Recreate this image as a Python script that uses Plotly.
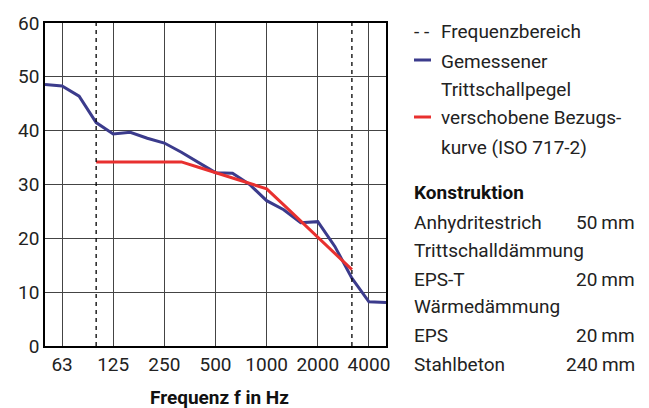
import plotly.graph_objects as go

# third-octave band centre frequencies (Hz)
bands = ["50", "63", "80", "100", "125", "160", "200", "250", "315", "400", "500",
         "630", "800", "1000", "1250", "1600", "2000", "2500", "3150", "4000", "5000"]
# measured impact sound level (dB)
measured = [48.6, 48.3, 46.4, 41.5, 39.4, 39.7, 38.6, 37.7, 36.0, 34.1, 32.2,
            32.1, 30.0, 27.0, 25.3, 22.9, 23.1, 18.5, 12.6, 8.2, 8.1]
# shifted reference curve ISO 717-2 (100..3150 Hz)
ref_bands = ["100", "125", "160", "200", "250", "315", "400", "500", "630", "800",
             "1000", "1250", "1600", "2000", "2500", "3150"]
reference = [34.2, 34.2, 34.2, 34.2, 34.2, 34.2, 33.2, 32.2, 31.2, 30.2,
             29.2, 26.2, 23.2, 20.2, 17.2, 14.2]
tick_labels = ["63", "125", "250", "500", "1000", "2000", "4000"]
range_limits = ["100", "3150"]
y_ticks = [0, 10, 20, 30, 40, 50, 60]

legend_items = ["Frequenzbereich", "Gemessener", "Trittschallpegel",
                "verschobene Bezugs-", "kurve (ISO 717-2)"]
constr_names = ["Anhydritestrich", "Trittschalldämmung", "EPS-T", "Wärmedämmung", "EPS", "Stahlbeton"]
constr_values = ["50\u2009mm", "", "20\u2009mm", "", "20\u2009mm", "240\u2009mm"]

FONT = "Roboto, sans-serif"
FS = 19
BLUE = "#3b3b8c"
RED = "#e8302f"
TXT = "#222222"

W, H = 649, 408
ML, MR, MT, MB = 45, 263, 23, 62
PW, PH = W - ML - MR, H - MT - MB

idx = {b: i for i, b in enumerate(bands)}


def px(xv):
    return (xv - ML) / PW


def py(yv):
    return (H - MB - yv) / PH


fig = go.Figure()
fig.add_trace(go.Scatter(x=[idx[b] for b in bands], y=measured, mode="lines",
                         line=dict(color=BLUE, width=3), name="Gemessener Trittschallpegel",
                         showlegend=False))
fig.add_trace(go.Scatter(x=[idx[b] for b in ref_bands], y=reference, mode="lines",
                         line=dict(color=RED, width=3), name="verschobene Bezugskurve (ISO 717-2)",
                         showlegend=False))

for b in range_limits:
    fig.add_shape(type="line", xref="x", yref="paper", x0=idx[b], x1=idx[b], y0=0, y1=1,
                  line=dict(color="black", width=1.3, dash="4px,4px"))

fig.update_xaxes(range=[0, len(bands) - 1], tickmode="array",
                 tickvals=[idx[t] for t in tick_labels], ticktext=tick_labels,
                 showgrid=True, gridcolor="#444444", gridwidth=1.3,
                 showline=True, linecolor="black", linewidth=1.5, mirror=True,
                 ticks="", zeroline=False, automargin=False,
                 tickfont=dict(family=FONT, size=FS, color=TXT))
fig.update_yaxes(range=[0, 60], tickmode="array", tickvals=y_ticks,
                 showgrid=True, gridcolor="#444444", gridwidth=1.3,
                 showline=True, linecolor="black", linewidth=1.5, mirror=True,
                 ticks="", zeroline=False, automargin=False,
                 tickfont=dict(family=FONT, size=FS, color=TXT))

fig.add_annotation(xref="paper", yref="paper", x=px(219), y=py(397),
                   text="<b>Frequenz f in Hz</b>", showarrow=False,
                   xanchor="center", yanchor="middle",
                   font=dict(family=FONT, size=FS, color="#111111"))

# legend drawn manually
leg_x_sym0, leg_x_sym1, leg_x_text = 414, 431, 439
leg_rows = [31.5, 61, 89.5, 118, 147]

fig.add_annotation(xref="paper", yref="paper", x=px(leg_x_sym0 - 2), y=py(leg_rows[0]),
                   text="- -", showarrow=False, xanchor="left", yanchor="middle",
                   font=dict(family=FONT, size=FS, color=TXT))
for t, r in zip(legend_items, leg_rows):
    fig.add_annotation(xref="paper", yref="paper", x=px(leg_x_text), y=py(r), text=t,
                       showarrow=False, xanchor="left", yanchor="middle",
                       font=dict(family=FONT, size=FS, color=TXT))
for color, r in [(BLUE, leg_rows[1]), (RED, leg_rows[3])]:
    fig.add_shape(type="line", xref="paper", yref="paper", x0=px(leg_x_sym0), x1=px(leg_x_sym1),
                  y0=py(r - 1), y1=py(r - 1), line=dict(color=color, width=3))

fig.add_annotation(xref="paper", yref="paper", x=px(412), y=py(192.5), text="<b>Konstruktion</b>",
                   showarrow=False, xanchor="left", yanchor="middle",
                   font=dict(family=FONT, size=FS, color="#111111"))
rows = [222.4, 250.3, 279, 306.5, 335.5, 364.5]
for n, v, r in zip(constr_names, constr_values, rows):
    fig.add_annotation(xref="paper", yref="paper", x=px(412), y=py(r), text=n,
                       showarrow=False, xanchor="left", yanchor="middle",
                       font=dict(family=FONT, size=FS, color=TXT))
    if v:
        fig.add_annotation(xref="paper", yref="paper", x=px(637), y=py(r), text=v,
                           showarrow=False, xanchor="right", yanchor="middle",
                           font=dict(family=FONT, size=FS, color=TXT))

fig.update_layout(width=W, height=H, margin=dict(l=ML, r=MR, t=MT, b=MB, autoexpand=False),
                  plot_bgcolor="white", paper_bgcolor="white", showlegend=False,
                  font=dict(family=FONT))

fig.write_html("out.html", config={"displayModeBar": False},
               post_script="document.body.style.margin='0px';")
